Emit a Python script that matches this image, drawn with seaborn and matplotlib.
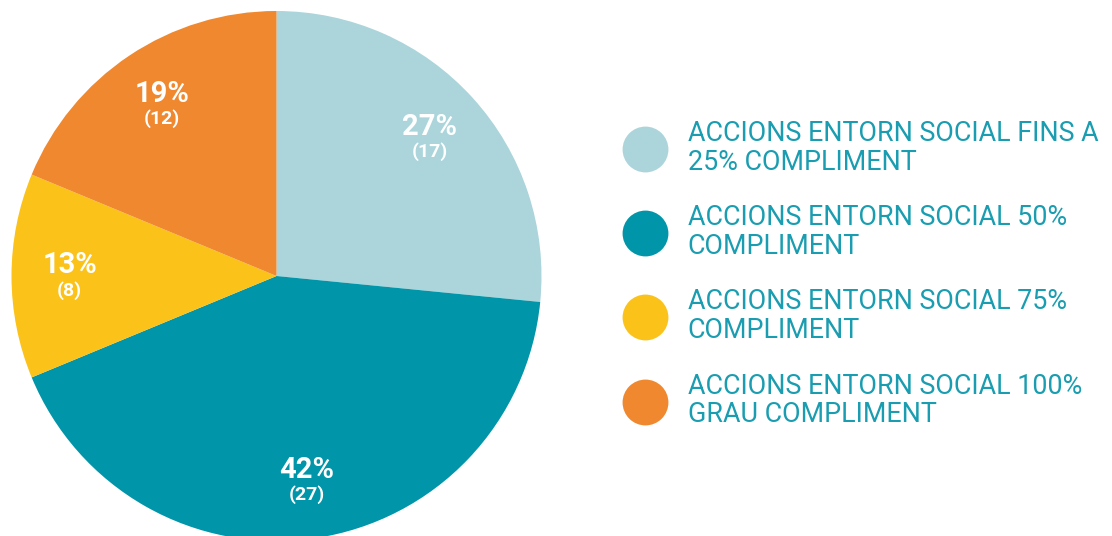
import numpy as np
import matplotlib
import matplotlib.pyplot as plt
import seaborn as sns
from matplotlib.lines import Line2D
matplotlib.use("Agg")

sns.set_theme(style="white")
plt.rcParams['font.family'] = ['Roboto', 'DejaVu Sans']

# data
categories = [
    "ACCIONS ENTORN SOCIAL FINS A\n25% COMPLIMENT",
    "ACCIONS ENTORN SOCIAL 50%\nCOMPLIMENT",
    "ACCIONS ENTORN SOCIAL 75%\nCOMPLIMENT",
    "ACCIONS ENTORN SOCIAL 100%\nGRAU COMPLIMENT",
]
counts = [17, 27, 8, 12]
colors = sns.color_palette(["#ABD5DB", "#0095A8", "#FBC21A", "#EF882F"])
text_color = "#1A9DB0"

fig = plt.figure(figsize=(11.12, 5.36), dpi=100)
ax = fig.add_axes([11.5 / 1112, -5 / 536, 530 / 1112, 530 / 536])

wedges, _ = ax.pie(counts, colors=colors, startangle=90, counterclock=False,
                   radius=1, wedgeprops=dict(linewidth=0))
ax.set_xlim(-1, 1)
ax.set_ylim(-1, 1)
ax.set_aspect('auto')
ax.axis('off')

total = sum(counts)
for w, n in zip(wedges, counts):
    mid = np.deg2rad((w.theta1 + w.theta2) / 2)
    x, y = 0.78 * np.cos(mid), 0.78 * np.sin(mid)
    pct = int(100 * n / total + 0.5)
    ax.text(x, y + 0.04, f"{pct}%", color="white", fontsize=21, fontweight="bold",
            ha="center", va="center")
    ax.text(x, y - 0.055, f"({n})", color="white", fontsize=14, fontweight="bold",
            ha="center", va="center")

handles = [Line2D([], [], marker='o', linestyle='', markersize=33, markerfacecolor=c,
                  markeredgewidth=0) for c in colors]
leg = fig.legend(handles, categories, loc='upper left', bbox_to_anchor=(623 / 1112, 1 - 120 / 536),
                 frameon=False, fontsize=19.4, labelspacing=1.06, handletextpad=0.8,
                 handlelength=1.6, borderaxespad=0, borderpad=0)
for t in leg.get_texts():
    t.set_color(text_color)
    t.set_linespacing(1.08)

fig.savefig("out.png", dpi=100)
